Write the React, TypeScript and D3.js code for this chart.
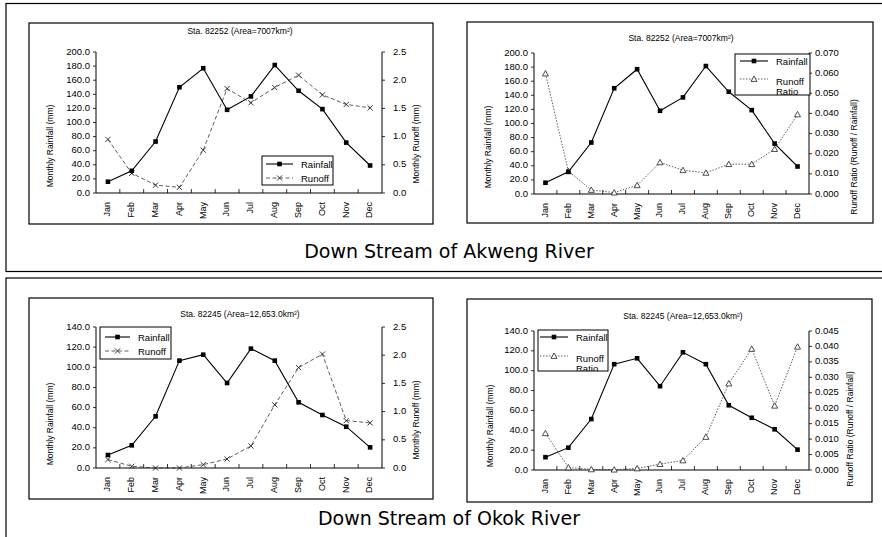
import React from "react";
import * as d3 from "d3";

const months = ["Jan", "Feb", "Mar", "Apr", "May", "Jun", "Jul", "Aug", "Sep", "Oct", "Nov", "Dec"];

const akwengRainfall = [16, 31.5, 73, 150, 177, 118, 137, 181.5, 145, 119, 71.5, 39];
const akwengRunoff = [0.95, 0.35, 0.14, 0.1, 0.76, 1.85, 1.6, 1.87, 2.09, 1.74, 1.57, 1.51];
const akwengRatio = [0.0598, 0.0113, 0.002, 0.0007, 0.0043, 0.0157, 0.0118, 0.0105, 0.0148, 0.0148, 0.0223, 0.0395];

const okokRainfall = [12.9, 22.5, 51.3, 106.6, 112.5, 84.4, 118.5, 106.6, 65.2, 52.6, 41, 20.5];
const okokRunoff = [0.15, 0.03, 0.0, 0.0, 0.06, 0.16, 0.39, 1.12, 1.78, 2.02, 0.84, 0.8];
const okokRatio = [0.0119, 0.0008, 0.0002, 0.0001, 0.0005, 0.0019, 0.0031, 0.0107, 0.028, 0.0392, 0.0208, 0.0399];

const akwengTitle = "Sta. 82252 (Area=7007km²)";
const okokTitle = "Sta. 82245 (Area=12,653.0km²)";
const captions = ["Down Stream of Akweng River", "Down Stream of Okok River"];

const rainfallLabel = "Monthly Rainfall (mm)";
const runoffLabel = "Monthly Runoff (mm)";
const ratioLabel = "Runoff Ratio (Runoff / Rainfall)";

const FONT = "'Liberation Sans', Arial, sans-serif";

type Box = { x0: number; y0: number; x1: number; y1: number };

type ChartCfg = {
  box: Box;
  plot: { l: number; r: number; t: number; b: number };
  title: string;
  titleX: number;
  titleY: number;
  rain: number[];
  leftMax: number;
  leftStep: number;
  leftFmt: (v: number) => string;
  second: number[];
  rightMax: number;
  rightStep: number;
  rightFmt: (v: number) => string;
  kind: "runoff" | "ratio";
  leftLabelX: number;
  rightLabelX: number;
  labelCY: number;
  rightLabelCY: number;
  rightTickGap: number;
  legend: Box;
  legendRows: number[];
  legendLine: [number, number];
  legendTextX: number;
};

function XMark({ x, y }: { x: number; y: number }) {
  const s = 2.6;
  return <path d={`M${x - s},${y - s}L${x + s},${y + s}M${x - s},${y + s}L${x + s},${y - s}`} stroke="#222" strokeWidth={0.9} />;
}
function Tri({ x, y }: { x: number; y: number }) {
  const s = 3;
  return <path d={`M${x},${y - s}L${x + s},${y + s * 0.8}L${x - s},${y + s * 0.8}Z`} fill="#fff" stroke="#222" strokeWidth={0.8} />;
}
function Sq({ x, y }: { x: number; y: number }) {
  return <rect x={x - 2.3} y={y - 2.3} width={4.6} height={4.6} fill="#000" />;
}

function Chart({ c, id }: { c: ChartCfg; id: string }) {
  const { l, r, t, b } = c.plot;
  const x = d3.scalePoint<string>().domain(months).range([l, r]).padding(0.5);
  const yL = d3.scaleLinear().domain([0, c.leftMax]).range([b, t]);
  const yR = d3.scaleLinear().domain([0, c.rightMax]).range([b, t]);
  const step = (r - l) / months.length;
  const leftTicks = d3.range(0, c.leftMax + c.leftStep / 2, c.leftStep);
  const rightTicks = d3.range(0, c.rightMax + c.rightStep / 2, c.rightStep);
  const rainLine = d3
    .line<number>()
    .x((_, i) => x(months[i]) as number)
    .y((d) => yL(d))(c.rain) as string;
  const secLine = d3
    .line<number>()
    .x((_, i) => x(months[i]) as number)
    .y((d) => yR(d))(c.second) as string;
  const isRunoff = c.kind === "runoff";
  const lg = c.legend;
  return (
    <g fontFamily={FONT} fill="#000">
      <rect x={c.box.x0} y={c.box.y0} width={c.box.x1 - c.box.x0} height={c.box.y1 - c.box.y0} fill="#fff" stroke="#000" strokeWidth={1.2} />
      <text x={c.titleX} y={c.titleY} fontSize={8.5} textAnchor="middle" dominantBaseline="middle">
        {c.title}
      </text>
      {/* axes */}
      <path d={`M${l},${t}V${b}H${r}V${t}`} fill="none" stroke="#000" strokeWidth={1} />
      {leftTicks.map((v) => (
        <g key={"l" + v}>
          <line x1={l - 3} x2={l} y1={yL(v)} y2={yL(v)} stroke="#000" strokeWidth={0.8} />
          <text x={l - 6} y={yL(v)} fontSize={9.5} textAnchor="end" dominantBaseline="middle">
            {c.leftFmt(v)}
          </text>
        </g>
      ))}
      {rightTicks.map((v) => (
        <g key={"r" + v}>
          <line x1={r} x2={r + 3} y1={yR(v)} y2={yR(v)} stroke="#000" strokeWidth={0.8} />
          <text x={r + c.rightTickGap} y={yR(v)} fontSize={9.5} textAnchor="start" dominantBaseline="middle">
            {c.rightFmt(v)}
          </text>
        </g>
      ))}
      {d3.range(1, months.length).map((i) => (
        <line key={"xt" + i} x1={l + i * step} x2={l + i * step} y1={b} y2={b - 4} stroke="#000" strokeWidth={0.8} />
      ))}
      {months.map((m) => (
        <text
          key={m}
          transform={`translate(${x(m)},${b + 9}) rotate(-90)`}
          fontSize={9}
          textAnchor="end"
          dominantBaseline="middle"
        >
          {m}
        </text>
      ))}
      <text transform={`translate(${c.leftLabelX},${c.labelCY}) rotate(-90)`} fontSize={8.5} textAnchor="middle" dominantBaseline="middle">
        {rainfallLabel}
      </text>
      <text transform={`translate(${c.rightLabelX},${c.rightLabelCY}) rotate(-90)`} fontSize={8.5} textAnchor="middle" dominantBaseline="middle">
        {isRunoff ? runoffLabel : ratioLabel}
      </text>
      {/* series */}
      <path d={secLine} fill="none" stroke="#333" strokeWidth={0.8} strokeDasharray={isRunoff ? "4,2.5" : "1.5,1.5"} />
      <path d={rainLine} fill="none" stroke="#000" strokeWidth={1.1} />
      {c.second.map((v, i) =>
        isRunoff ? <XMark key={"s" + i} x={x(months[i]) as number} y={yR(v)} /> : <Tri key={"s" + i} x={x(months[i]) as number} y={yR(v)} />
      )}
      {c.rain.map((v, i) => (
        <Sq key={"p" + i} x={x(months[i]) as number} y={yL(v)} />
      ))}
      {/* legend */}
      <clipPath id={id + "clip"}>
        <rect x={lg.x0} y={lg.y0} width={lg.x1 - lg.x0} height={lg.y1 - lg.y0} />
      </clipPath>
      <rect x={lg.x0} y={lg.y0} width={lg.x1 - lg.x0} height={lg.y1 - lg.y0} fill="#fff" stroke="#000" strokeWidth={1} />
      <g clipPath={`url(#${id}clip)`}>
        <line x1={c.legendLine[0]} x2={c.legendLine[1]} y1={c.legendRows[0]} y2={c.legendRows[0]} stroke="#000" strokeWidth={1.1} />
        <Sq x={(c.legendLine[0] + c.legendLine[1]) / 2} y={c.legendRows[0]} />
        <text x={c.legendTextX} y={c.legendRows[0] + 1} fontSize={9.5} dominantBaseline="middle">
          Rainfall
        </text>
        <line
          x1={c.legendLine[0]}
          x2={c.legendLine[1]}
          y1={c.legendRows[1]}
          y2={c.legendRows[1]}
          stroke="#333"
          strokeWidth={0.8}
          strokeDasharray={isRunoff ? "4,2.5" : "1.5,1.5"}
        />
        {isRunoff ? (
          <XMark x={(c.legendLine[0] + c.legendLine[1]) / 2} y={c.legendRows[1]} />
        ) : (
          <Tri x={(c.legendLine[0] + c.legendLine[1]) / 2} y={c.legendRows[1]} />
        )}
        {isRunoff ? (
          <text x={c.legendTextX} y={c.legendRows[1] + 1} fontSize={9.5} dominantBaseline="middle">
            Runoff
          </text>
        ) : (
          <>
            <text x={c.legendTextX} y={c.legendRows[1] + 3} fontSize={9.5} dominantBaseline="middle">
              Runoff
            </text>
            <text x={c.legendTextX} y={c.legendRows[1] + 13} fontSize={9.5} dominantBaseline="middle">
              Ratio
            </text>
          </>
        )}
      </g>
    </g>
  );
}

const f1 = (v: number) => d3.format(".1f")(v);
const f3 = (v: number) => d3.format(".3f")(v);

const charts: ChartCfg[] = [
  {
    box: { x0: 29, y0: 23, x1: 433, y1: 224 },
    plot: { l: 96, r: 382, t: 52, b: 193 },
    title: akwengTitle,
    titleX: 240,
    titleY: 32,
    rain: akwengRainfall,
    leftMax: 200,
    leftStep: 20,
    leftFmt: f1,
    second: akwengRunoff,
    rightMax: 2.5,
    rightStep: 0.5,
    rightFmt: f1,
    kind: "runoff",
    leftLabelX: 51,
    rightLabelX: 417,
    labelCY: 146,
    rightLabelCY: 144,
    rightTickGap: 11,
    legend: { x0: 262, y0: 156, x1: 333, y1: 185 },
    legendRows: [164, 178],
    legendLine: [266, 293],
    legendTextX: 301,
  },
  {
    box: { x0: 467, y0: 22, x1: 873, y1: 223 },
    plot: { l: 534, r: 809, t: 53, b: 194 },
    title: akwengTitle,
    titleX: 681,
    titleY: 39,
    rain: akwengRainfall,
    leftMax: 200,
    leftStep: 20,
    leftFmt: f1,
    second: akwengRatio,
    rightMax: 0.07,
    rightStep: 0.01,
    rightFmt: f3,
    kind: "ratio",
    leftLabelX: 489,
    rightLabelX: 855,
    labelCY: 147,
    rightLabelCY: 157,
    rightTickGap: 6,
    legend: { x0: 735, y0: 54, x1: 810, y1: 95 },
    legendRows: [61, 79],
    legendLine: [740, 768],
    legendTextX: 776,
  },
  {
    box: { x0: 29, y0: 298, x1: 433, y1: 499 },
    plot: { l: 96, r: 382, t: 327, b: 468 },
    title: okokTitle,
    titleX: 240,
    titleY: 315,
    rain: okokRainfall,
    leftMax: 140,
    leftStep: 20,
    leftFmt: f1,
    second: okokRunoff,
    rightMax: 2.5,
    rightStep: 0.5,
    rightFmt: f1,
    kind: "runoff",
    leftLabelX: 51,
    rightLabelX: 417,
    labelCY: 424,
    rightLabelCY: 420,
    rightTickGap: 11,
    legend: { x0: 100, y0: 327, x1: 171, y1: 359 },
    legendRows: [337, 351],
    legendLine: [105, 130],
    legendTextX: 138,
  },
  {
    box: { x0: 467, y0: 299, x1: 872, y1: 502 },
    plot: { l: 534, r: 809, t: 331, b: 470 },
    title: okokTitle,
    titleX: 683,
    titleY: 317,
    rain: okokRainfall,
    leftMax: 140,
    leftStep: 20,
    leftFmt: f1,
    second: okokRatio,
    rightMax: 0.045,
    rightStep: 0.005,
    rightFmt: f3,
    kind: "ratio",
    leftLabelX: 491,
    rightLabelX: 851,
    labelCY: 426,
    rightLabelCY: 429,
    rightTickGap: 6,
    legend: { x0: 538, y0: 330, x1: 608, y1: 371 },
    legendRows: [337, 356],
    legendLine: [540, 568],
    legendTextX: 576,
  },
];

export default function App() {
  return (
    <div style={{ position: "absolute", left: 0, top: 0, width: 882, height: 537, background: "#fff" }}>
      <svg width={882} height={537} viewBox="0 0 882 537" style={{ display: "block" }}>
        <rect x={0} y={0} width={882} height={537} fill="#fff" />
        {/* outer panels */}
        <rect x={6} y={3.5} width={880} height={268} fill="none" stroke="#000" strokeWidth={1.2} />
        <rect x={6} y={278} width={880} height={270} fill="none" stroke="#000" strokeWidth={1.2} />
        {charts.map((c, i) => (
          <Chart key={i} c={c} id={"ch" + i} />
        ))}
        <text x={449} y={258} fontFamily="'DejaVu Sans', sans-serif" fontSize={19} textAnchor="middle">
          {captions[0]}
        </text>
        <text x={449} y={525} fontFamily="'DejaVu Sans', sans-serif" fontSize={19} textAnchor="middle">
          {captions[1]}
        </text>
      </svg>
    </div>
  );
}
